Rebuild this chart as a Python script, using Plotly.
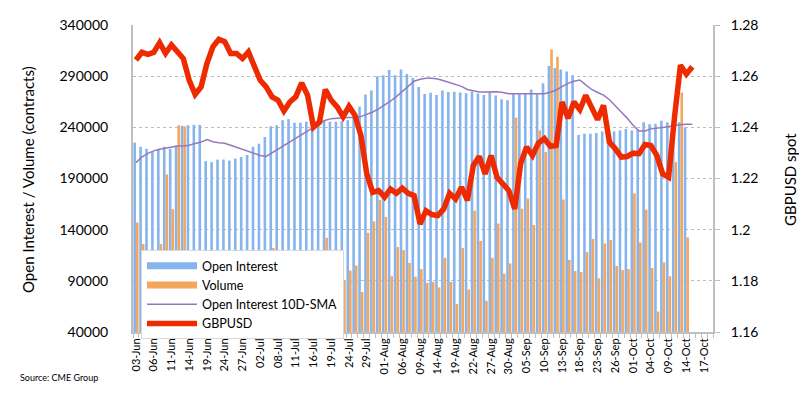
import plotly.graph_objects as go

# ---------------- data ----------------
dates = [
    "03-Jun", "04-Jun", "05-Jun", "06-Jun", "07-Jun", "10-Jun", "11-Jun", "12-Jun", "13-Jun", "14-Jun",
    "17-Jun", "18-Jun", "19-Jun", "20-Jun", "21-Jun", "24-Jun", "25-Jun", "26-Jun", "27-Jun", "28-Jun",
    "01-Jul", "02-Jul", "03-Jul", "05-Jul", "08-Jul", "09-Jul", "10-Jul", "11-Jul", "12-Jul", "15-Jul",
    "16-Jul", "17-Jul", "18-Jul", "19-Jul", "22-Jul", "23-Jul", "24-Jul", "25-Jul", "26-Jul", "29-Jul",
    "30-Jul", "31-Jul", "01-Aug", "02-Aug", "05-Aug", "06-Aug", "07-Aug", "08-Aug", "09-Aug", "12-Aug",
    "13-Aug", "14-Aug", "15-Aug", "16-Aug", "19-Aug", "20-Aug", "21-Aug", "22-Aug", "23-Aug", "26-Aug",
    "27-Aug", "28-Aug", "29-Aug", "30-Aug", "03-Sep", "04-Sep", "05-Sep", "06-Sep", "09-Sep", "10-Sep",
    "11-Sep", "12-Sep", "13-Sep", "16-Sep", "17-Sep", "18-Sep", "19-Sep", "20-Sep", "23-Sep", "24-Sep",
    "25-Sep", "26-Sep", "27-Sep", "30-Sep", "01-Oct", "02-Oct", "03-Oct", "04-Oct", "07-Oct", "08-Oct",
    "09-Oct", "10-Oct", "11-Oct", "14-Oct", "15-Oct", "16-Oct", "17-Oct", "18-Oct",
]

open_interest = [
    225000, 221000, 219000, 216000, 219000, 221000, 219000, 222000, 241500, 242000,
    242500, 242500, 207000, 206000, 208500, 208500, 207500, 209500, 211000, 213000,
    221000, 224000, 230500, 241000, 242000, 247000, 248000, 244500, 244500, 245500,
    245500, 247500, 247000, 245500, 245500, 246000, 247000, 250000, 260000, 272000,
    276000, 290000, 291000, 296000, 291000, 296500, 292000, 288500, 279500, 272500,
    273800, 271500, 276000, 274500, 274700, 274000, 273300, 275000, 273000, 271500,
    274000, 271000, 267500, 266500, 272500, 272300, 273000, 277000, 272300, 283000,
    300000, 298000, 296500, 294500, 291000, 232500, 233800, 233800, 234500, 236000,
    235000, 236000, 237000, 238500, 237000, 238000, 245000, 243000, 243500, 246500,
    245000, 246000, 245000, 240000,
]

volume = [
    147000, 126000, 108000, 100000, 126000, 194000, 160000, 242000, 241000, 110000,
    95000, 100000, 85000, 90000, 80000, 88000, 95000, 85000, 92000, 80000,
    75000, 90000, 100000, 122000, 95000, 85000, 90000, 80000, 88000, 75000,
    100000, 110000, 132000, 95000, 85000, 90000, 100000, 105000, 79000, 137000,
    148000, 169000, 152500, 94500, 123000, 120000, 107500, 94000, 101500, 88000,
    89000, 83500, 112500, 89000, 67500, 122000, 81500, 158500, 129000, 70500,
    112500, 146000, 97000, 107000, 249500, 160500, 170500, 144500, 237000, 216000,
    316000, 309000, 169500, 110500, 99500, 98500, 118000, 131000, 92500, 126500,
    130000, 104500, 100500, 101500, 175500, 127500, 159500, 102500, 60000, 108000,
    94500, 206000, 274000, 132500,
]

oi_sma10 = [
    205500, 211000, 214500, 217000, 218500, 219800, 221000, 221700, 221700, 222500,
    224300, 225600, 228000, 226000, 225000, 224500, 222500, 220500, 218500, 216500,
    214500, 212500, 211500, 215000, 219000, 222500, 226000, 229500, 232500, 236000,
    240000, 244000, 247000, 248500, 249200, 249400, 249500, 249500, 250500, 252500,
    255000, 258000, 261500, 265500, 270000, 275000, 280500, 285000, 287000, 288000,
    288000, 287300, 285500, 283500, 282000, 280000, 277000, 275500, 274500, 274500,
    274700, 274700, 274000, 272800, 272700, 272700, 272700, 272700, 272700, 272800,
    274200, 276500, 279800, 283000, 285000, 286300, 281500, 277000, 274000, 271500,
    267000, 260500, 255000, 249000, 242000, 236500, 236500, 238500, 239000, 239500,
    240500, 242000, 242800, 243000, 243000,
]

gbpusd = [
    1.2663, 1.2693, 1.2685, 1.2693, 1.2731, 1.2689, 1.2722, 1.2693, 1.2669, 1.2584,
    1.2529, 1.2558, 1.2650, 1.2715, 1.2744, 1.2735, 1.2689, 1.2689, 1.2669, 1.2695,
    1.2637, 1.2584, 1.2558, 1.2519, 1.2506, 1.2464, 1.2499, 1.2519, 1.2574, 1.2525,
    1.2401, 1.2420, 1.2548, 1.2506, 1.2480, 1.2441, 1.2482, 1.2447, 1.2369, 1.2218,
    1.2146, 1.2153, 1.2127, 1.2159, 1.2142, 1.2162, 1.2142, 1.2133, 1.2022, 1.2074,
    1.2059, 1.2055, 1.2081, 1.2142, 1.2120, 1.2166, 1.2114, 1.2251, 1.2286, 1.2218,
    1.2290, 1.2205, 1.2179, 1.2153, 1.2081, 1.2258, 1.2323, 1.2290, 1.2339, 1.2356,
    1.2326, 1.2329, 1.2499, 1.2435, 1.2499, 1.2469, 1.2525, 1.2477, 1.2430, 1.2486,
    1.2342, 1.2316, 1.2284, 1.2286, 1.2299, 1.2297, 1.2333, 1.2329, 1.2290, 1.2218,
    1.2205, 1.2440, 1.2643, 1.2608, 1.2637,
]

left_ticks = [40000, 90000, 140000, 190000, 240000, 290000, 340000]
right_ticks = [1.16, 1.18, 1.20, 1.22, 1.24, 1.26, 1.28]
label_step = 3

# ---------------- figure ----------------
FONT = "Lato"
OI_COLOR = "#86B4EC"
VOL_COLOR = "#F4A65C"
SMA_COLOR = "#9577BD"
FX_COLOR = "#EE2A00"

OFF = 8                      # page body margin
W, H = 807 - OFF, 397 - OFF
ML, MR, MT, MB = 125, 94, 17, 65
PW, PH = W - ML - MR, H - MT - MB


def px(x_page):
    return (x_page - OFF - ML) / PW


def py(y_page):
    return 1 - (y_page - OFF - MT) / PH


fig = go.Figure()
fig.add_trace(go.Bar(
    x=dates[:len(open_interest)], y=open_interest, name="Open Interest",
    marker=dict(color=OI_COLOR, line=dict(width=0)), yaxis="y",
    showlegend=False, legendgroup="oi",
))
fig.add_trace(go.Bar(
    x=dates[:len(volume)], y=volume, name="Volume",
    marker=dict(color=VOL_COLOR, line=dict(width=0)), yaxis="y",
    showlegend=False, legendgroup="vol",
))
# legend-only entries drawn as wide swatches (like the original's legend keys)
fig.add_trace(go.Scatter(
    x=[None], y=[None], name="Open Interest", mode="lines",
    line=dict(color=OI_COLOR, width=7), legendgroup="oi",
))
fig.add_trace(go.Scatter(
    x=[None], y=[None], name="Volume", mode="lines",
    line=dict(color=VOL_COLOR, width=7), legendgroup="vol",
))
fig.add_trace(go.Scatter(
    x=dates[:len(oi_sma10)], y=oi_sma10, name="Open Interest 10D-SMA",
    mode="lines", line=dict(color=SMA_COLOR, width=1.5), yaxis="y",
))
fig.add_trace(go.Scatter(
    x=dates[:len(gbpusd)], y=gbpusd, name="GBPUSD",
    mode="lines", line=dict(color=FX_COLOR, width=5.5, shape="linear"),
    yaxis="y2",
))

ticktext = [d if i % label_step == 0 else "" for i, d in enumerate(dates)]

fig.update_layout(
    width=W, height=H,
    margin=dict(l=ML, r=MR, t=MT, b=MB, pad=0, autoexpand=False),
    paper_bgcolor="white", plot_bgcolor="white",
    barmode="group", bargap=0.12, bargroupgap=0.0,
    font=dict(family=FONT, color="#000000"),
    showlegend=True,
    legend=dict(
        x=px(141), y=py(250), xanchor="left", yanchor="top",
        bgcolor="white", bordercolor="#D9D9D9", borderwidth=1,
        font=dict(family=FONT, size=12.5, color="#000000"),
        tracegroupgap=0, itemwidth=50, traceorder="normal",
    ),
    xaxis=dict(
        type="category", categoryorder="array", categoryarray=dates,
        range=[-0.5, len(dates) - 0.5],
        tickmode="array", tickvals=dates, ticktext=ticktext,
        tickangle=-90, tickfont=dict(family=FONT, size=11),
        ticks="outside", ticklen=4, tickcolor="#BFBFBF", tickson="boundaries",
        showline=True, linecolor="#BFBFBF", linewidth=2,
        showgrid=False, zeroline=False,
    ),
    yaxis=dict(
        range=[40000, 340000], tickmode="array", tickvals=left_ticks,
        tickformat="d", tickfont=dict(family=FONT, size=14),
        showgrid=True, gridcolor="#BDBDBD", griddash="dot", gridwidth=1,
        showline=True, linecolor="#BFBFBF", linewidth=2,
        ticks="", ticklabelstandoff=20, zeroline=False,
    ),
    yaxis2=dict(
        overlaying="y", side="right",
        range=[1.16, 1.28], tickmode="array", tickvals=right_ticks,
        ticktext=[f"{v:g}" for v in right_ticks],
        tickfont=dict(family=FONT, size=14),
        showgrid=False, zeroline=False,
        showline=True, linecolor="#BFBFBF", linewidth=2,
        ticks="outside", ticklen=5, tickcolor="#BFBFBF", ticklabelstandoff=8,
    ),
    annotations=[
        dict(text="Open Interest / Volume (contracts)", textangle=-90,
             xref="paper", yref="paper", x=px(28), y=py(180),
             xanchor="center", yanchor="middle", showarrow=False,
             font=dict(family=FONT, size=15, color="#000000")),
        dict(text="GBPUSD spot", textangle=-90,
             xref="paper", yref="paper", x=px(790), y=py(180),
             xanchor="center", yanchor="middle", showarrow=False,
             font=dict(family=FONT, size=15, color="#000000")),
        dict(text="Source: CME Group", xref="paper", yref="paper",
             x=px(18), y=py(377),
             xanchor="left", yanchor="middle", showarrow=False,
             font=dict(family=FONT, size=9, color="#000000")),
    ],
)

fig.write_html("out.html")
